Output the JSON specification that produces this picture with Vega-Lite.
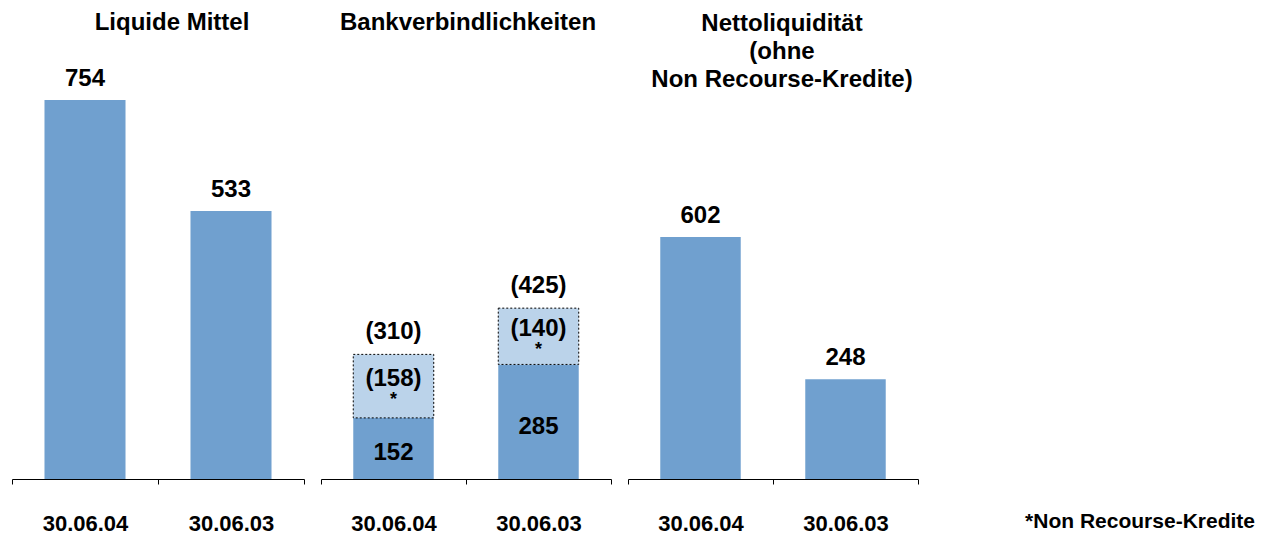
{
  "$schema": "https://vega.github.io/schema/vega-lite/v6.json",
  "autosize": "pad",
  "padding": {"left": 11, "top": 11, "right": 0, "bottom": 0},
  "background": "white",
  "config": {
    "font": "Liberation Sans",
    "view": {"stroke": null},
    "concat": {"spacing": 15},
    "title": {"fontSize": 24, "fontWeight": "bold", "color": "black", "anchor": "middle", "frame": "group", "lineHeight": 28},
    "text": {"fontSize": 24, "fontWeight": "bold", "color": "black"},
    "axisX": {
      "title": null, "domainColor": "black", "domainWidth": 1, "tickColor": "black", "tickWidth": 1,
      "tickSize": 5, "tickBand": "extent", "labelAngle": 0, "labelFontSize": 22, "labelFontWeight": "bold",
      "labelColor": "black", "labelPadding": 29, "grid": false
    }
  },
  "datasets": {
    "liq": [
      {"date": "30.06.04", "value": 754},
      {"date": "30.06.03", "value": 533}
    ],
    "bank": [
      {"date": "30.06.04", "seg": "Bank", "order": 1, "value": 152, "label": "152"},
      {"date": "30.06.04", "seg": "NR", "order": 2, "value": 158, "label": "(158)"},
      {"date": "30.06.03", "seg": "Bank", "order": 1, "value": 285, "label": "285"},
      {"date": "30.06.03", "seg": "NR", "order": 2, "value": 140, "label": "(140)"}
    ],
    "net": [
      {"date": "30.06.04", "value": 602},
      {"date": "30.06.03", "value": 248}
    ]
  },
  "hconcat": [
    {
      "width": 292, "height": 419,
      "title": {"text": "Liquide Mittel", "offset": 25, "dx": 14},
      "data": {"name": "liq"},
      "encoding": {
        "x": {"field": "date", "type": "nominal", "sort": null, "scale": {"paddingInner": 0, "paddingOuter": 0}},
        "y": {"field": "value", "type": "quantitative", "scale": {"domain": [0, 833.5], "nice": false, "zero": true}, "axis": null}
      },
      "layer": [
        {"mark": {"type": "bar", "width": {"band": 0.555}, "color": "#70A0CF"}},
        {"mark": {"type": "text", "baseline": "alphabetic", "dy": -14}, "encoding": {"text": {"field": "value", "type": "quantitative"}}}
      ]
    },
    {
      "width": 290, "height": 419,
      "title": {"text": "Bankverbindlichkeiten", "offset": 25, "dx": 2},
      "data": {"name": "bank"},
      "transform": [
        {"stack": "value", "groupby": ["date"], "sort": [{"field": "order"}], "as": ["v0", "v1"]},
        {"calculate": "(datum.v0 + datum.v1) / 2", "as": "mid"}
      ],
      "encoding": {
        "x": {"field": "date", "type": "nominal", "sort": null, "scale": {"paddingInner": 0, "paddingOuter": 0}}
      },
      "layer": [
        {
          "transform": [{"filter": "datum.seg === 'Bank'"}],
          "mark": {"type": "bar", "width": {"band": 0.555}, "color": "#70A0CF"},
          "encoding": {
            "y": {"field": "v1", "type": "quantitative", "scale": {"domain": [0, 1042.3], "nice": false}, "axis": null},
            "y2": {"field": "v0"}
          }
        },
        {
          "transform": [{"filter": "datum.seg === 'NR'"}],
          "mark": {"type": "bar", "width": {"band": 0.555}, "color": "#BBD3EA", "stroke": "black", "strokeWidth": 1, "strokeDash": [2, 2]},
          "encoding": {
            "y": {"field": "v1", "type": "quantitative", "scale": {"domain": [0, 1042.3], "nice": false}, "axis": null},
            "y2": {"field": "v0"}
          }
        },
        {
          "transform": [{"filter": "datum.seg === 'Bank'"}],
          "mark": {"type": "text", "baseline": "middle", "dy": 5},
          "encoding": {
            "y": {"field": "mid", "type": "quantitative", "scale": {"domain": [0, 1042.3], "nice": false}, "axis": null},
            "text": {"field": "label"}
          }
        },
        {
          "transform": [{"filter": "datum.seg === 'NR'"}],
          "mark": {"type": "text", "baseline": "middle", "dy": -7},
          "encoding": {
            "y": {"field": "mid", "type": "quantitative", "scale": {"domain": [0, 1042.3], "nice": false}, "axis": null},
            "text": {"field": "label"}
          }
        },
        {
          "transform": [{"filter": "datum.seg === 'NR'"}],
          "mark": {"type": "text", "baseline": "middle", "dy": 14, "fontSize": 18},
          "encoding": {
            "y": {"field": "mid", "type": "quantitative", "scale": {"domain": [0, 1042.3], "nice": false}, "axis": null},
            "text": {"value": "*"}
          }
        },
        {
          "transform": [
            {"aggregate": [{"op": "sum", "field": "value", "as": "total"}], "groupby": ["date"]},
            {"calculate": "'(' + datum.total + ')'", "as": "totlabel"}
          ],
          "mark": {"type": "text", "baseline": "alphabetic", "dy": -15},
          "encoding": {
            "y": {"field": "total", "type": "quantitative", "scale": {"domain": [0, 1042.3], "nice": false}, "axis": null},
            "text": {"field": "totlabel"}
          }
        }
      ]
    },
    {
      "width": 290, "height": 419,
      "title": {"text": ["Nettoliquidität", "(ohne", "Non Recourse-Kredite)"], "offset": -32, "dx": 9},
      "data": {"name": "net"},
      "encoding": {
        "x": {"field": "date", "type": "nominal", "sort": null, "scale": {"paddingInner": 0, "paddingOuter": 0}},
        "y": {"field": "value", "type": "quantitative", "scale": {"domain": [0, 1042.3], "nice": false, "zero": true}, "axis": null}
      },
      "layer": [
        {"mark": {"type": "bar", "width": {"band": 0.555}, "color": "#70A0CF"}},
        {"mark": {"type": "text", "baseline": "alphabetic", "dy": -14}, "encoding": {"text": {"field": "value", "type": "quantitative"}}}
      ]
    },
    {
      "width": 321, "height": 419,
      "title": {"text": "*Non Recourse-Kredite", "orient": "bottom", "anchor": "end", "offset": 32, "fontSize": 21},
      "data": {"values": [{"note": "*Non Recourse-Kredite"}]},
      "mark": {"type": "text", "opacity": 0},
      "encoding": {"text": {"value": ""}}
    }
  ]
}
